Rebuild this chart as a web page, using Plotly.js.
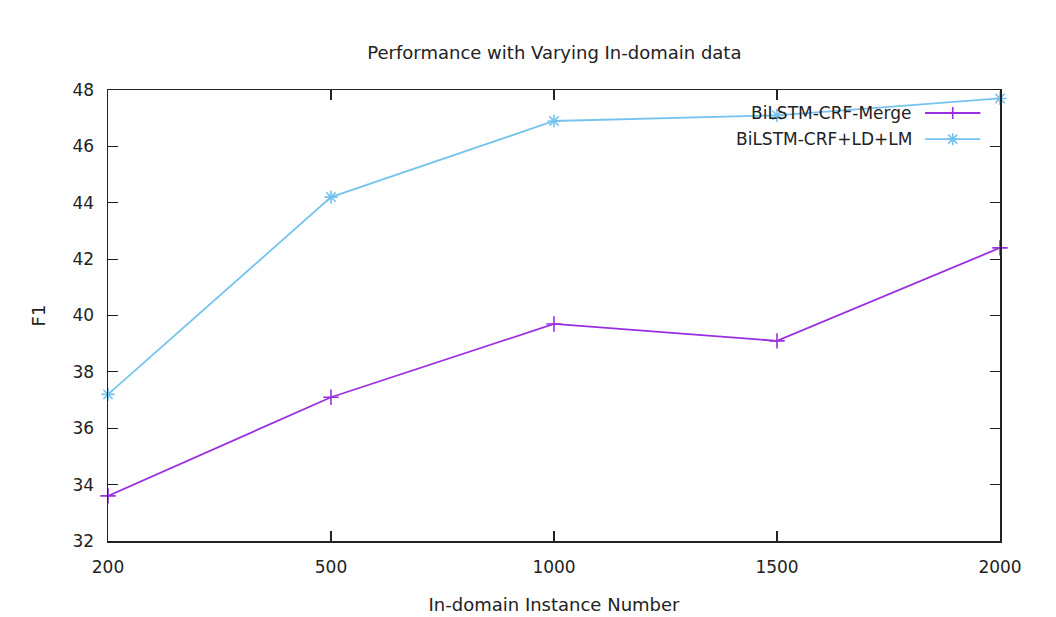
<!DOCTYPE html>
<html>
<head>
<meta charset="utf-8">
<script src="https://cdn.plot.ly/plotly-3.0.1.min.js"></script>
<style>html,body{margin:0;padding:0;background:#fff;}#chart{width:1056px;height:617px;}</style>
</head>
<body>
<div id="chart"></div>
<script>
const categories = ["200", "500", "1000", "1500", "2000"];
const mergeValues = [33.6, 37.1, 39.7, 39.1, 42.4];
const ldlmValues = [37.2, 44.2, 46.9, 47.1, 47.7];
const seriesNames = ["BiLSTM-CRF-Merge", "BiLSTM-CRF+LD+LM"];
const yTicks = [32, 34, 36, 38, 40, 42, 44, 46, 48];

const FONT = '"DejaVu Sans", sans-serif';
const colMerge = '#9a2fe0';
const colLd = '#76c4ee';
const txt = '#222';

const traces = [
  {x: categories, y: mergeValues, name: seriesNames[0], type: 'scatter', mode: 'lines+markers',
   line: {color: colMerge, width: 1.8}, marker: {symbol: 'cross-thin-open', size: 11, line: {color: colMerge, width: 1.6}},
   cliponaxis: false, showlegend: false},
  {x: categories, y: ldlmValues, name: seriesNames[1], type: 'scatter', mode: 'lines+markers',
   line: {color: colLd, width: 1.8}, marker: {symbol: 'asterisk-open', size: 11, line: {color: colLd, width: 1.6}},
   cliponaxis: false, showlegend: false}
];

// custom gnuplot-style legend (text left, sample right)
const legendRows = [
  {y: 0.949, color: colMerge, sym: 'M-6,0H6M0,-6V6'},
  {y: 0.891, color: colLd, sym: 'M-6,0H6M0,-6V6M-4.5,-4.5L4.5,4.5M-4.5,4.5L4.5,-4.5'}
];
const shapes = [];
const annotations = [];
legendRows.forEach((r, i) => {
  shapes.push({type: 'line', xref: 'paper', yref: 'paper', x0: 0.916, x1: 0.978, y0: r.y, y1: r.y,
    line: {color: r.color, width: 1.8}});
  shapes.push({type: 'path', xref: 'paper', yref: 'paper', xsizemode: 'pixel', ysizemode: 'pixel',
    xanchor: 0.947, yanchor: r.y, path: r.sym, line: {color: r.color, width: 1.6}});
  annotations.push({xref: 'paper', yref: 'paper', x: 0.904, y: r.y, xanchor: 'right', yanchor: 'middle',
    text: seriesNames[i], showarrow: false, font: {family: FONT, size: 17, color: txt}});
});

const layout = {
  width: 1056, height: 617,
  margin: {l: 108, r: 56, t: 90, b: 76},
  paper_bgcolor: '#fff', plot_bgcolor: '#fff',
  title: {text: 'Performance with Varying In-domain data', font: {family: FONT, size: 18, color: txt},
          x: 0.525, xanchor: 'center', y: 0.915, yanchor: 'middle'},
  font: {family: FONT, size: 17, color: txt},
  xaxis: {type: 'category', categoryorder: 'array', categoryarray: categories, range: [0, 4],
    showline: true, mirror: 'ticks', linecolor: txt, linewidth: 1.5,
    ticks: 'inside', ticklen: 10, tickwidth: 1.2, tickcolor: txt, showgrid: false, zeroline: false,
    ticklabelstandoff: 10,
    tickfont: {family: FONT, size: 17, color: txt},
    title: {text: 'In-domain Instance Number', font: {family: FONT, size: 18, color: txt}, standoff: 22}},
  yaxis: {range: [32, 48], tickvals: yTicks, ticktext: yTicks.map(String),
    showline: true, mirror: 'ticks', linecolor: txt, linewidth: 1.5,
    ticks: 'inside', ticklen: 10, tickwidth: 1.2, tickcolor: txt, showgrid: false, zeroline: false,
    ticklabelstandoff: 9,
    tickfont: {family: FONT, size: 17, color: txt},
    title: {text: 'F1', font: {family: FONT, size: 18, color: txt}, standoff: 22}},
  shapes: shapes,
  annotations: annotations,
  showlegend: false
};

Plotly.newPlot('chart', traces, layout, {displayModeBar: false, staticPlot: true});
</script>
</body>
</html>
